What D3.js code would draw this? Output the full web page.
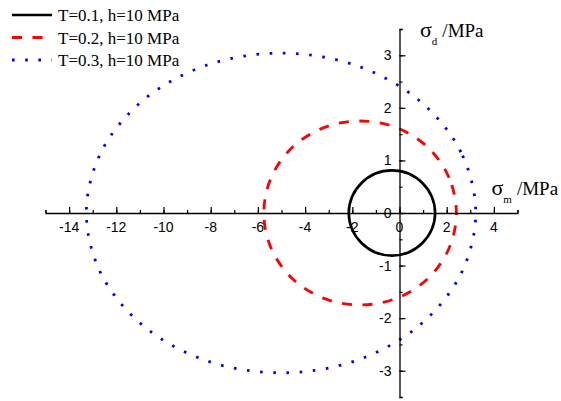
<!DOCTYPE html>
<html>
<head>
<meta charset="utf-8">
<script src="https://cdn.jsdelivr.net/npm/d3@7"></script>
<style>
  body { margin: 0; background: #fff; }
  svg { display: block; }
</style>
</head>
<body>
<div id="chart"></div>
<script>
// points: [sigma_m, sigma_d]
const curveT01 = [
  [1.51, 0], [1.37, 0.31], [0.97, 0.57], [0.38, 0.75], [-0.32, 0.81],
  [-1.02, 0.75], [-1.61, 0.57], [-2.01, 0.31], [-2.15, 0],
  [-2.01, -0.31], [-1.61, -0.57], [-1.02, -0.75], [-0.32, -0.81],
  [0.38, -0.75], [0.97, -0.57], [1.37, -0.31]
];
const curveT02 = [
  [2.41, 0], [2.10, 0.67], [1.22, 1.24], [-0.11, 1.62], [-1.67, 1.75],
  [-3.23, 1.62], [-4.56, 1.24], [-5.44, 0.67], [-5.75, 0],
  [-5.44, -0.67], [-4.56, -1.24], [-3.23, -1.62], [-1.67, -1.75],
  [-0.11, -1.62], [1.22, -1.24], [2.10, -0.67]
];
const curveT03 = [
  [3.23, 0], [2.60, 1.16], [0.81, 2.15], [-1.86, 2.81], [-5.02, 3.04],
  [-8.18, 2.81], [-10.85, 2.15], [-12.64, 1.16], [-13.27, 0],
  [-12.64, -1.16], [-10.85, -2.15], [-8.18, -2.81], [-5.02, -3.04],
  [-1.86, -2.81], [0.81, -2.15], [2.60, -1.16]
];
const seriesNames = ["T=0.1, h=10 MPa", "T=0.2, h=10 MPa", "T=0.3, h=10 MPa"];
const xTicks = [-14, -12, -10, -8, -6, -4, -2, 0, 2, 4];
const yTicks = [-3, -2, -1, 0, 1, 2, 3];

const width = 561, height = 401;
const sans = "'Liberation Sans', Arial, sans-serif";
const serif = "'Liberation Serif', 'Times New Roman', serif";

const x = d3.scaleLinear().domain([-15, 5]).range([45.5, 517.5]);
const y = d3.scaleLinear().domain([-3.5, 3.5]).range([397, 29]);

const svg = d3.select("#chart").append("svg")
    .attr("width", width)
    .attr("height", height);

const series = [
  { name: seriesNames[0], data: curveT01, color: "#000", dash: null, w: 2.6 },
  { name: seriesNames[1], data: curveT02, color: "#ff0000", dash: "10,10.5", w: 2.8 },
  { name: seriesNames[2], data: curveT03, color: "#0000ff", dash: "2.6,10.6", w: 2.8 }
];

const line = d3.line()
    .x(d => x(d[0]))
    .y(d => y(d[1]))
    .curve(d3.curveCatmullRomClosed.alpha(0.5));

svg.selectAll("path.curve")
  .data(series)
  .join("path")
    .attr("class", "curve")
    .attr("fill", "none")
    .attr("stroke", d => d.color)
    .attr("stroke-width", d => d.w)
    .attr("stroke-dasharray", d => d.dash)
    .attr("d", d => line(d.data));

// x axis through origin, ticks pointing up
const gx = svg.append("g")
    .attr("transform", `translate(0,${y(0)})`);
gx.call(d3.axisTop(x).tickValues(d3.range(-15, 6, 1)).tickSize(3).tickFormat(""))
gx.call(g => g.selectAll(".tick line").attr("stroke-width", 1.2));
gx.append("g")
  .call(d3.axisTop(x).tickValues(xTicks).tickSize(6).tickFormat(""))
  .call(g => g.select(".domain").remove())
  .call(g => g.selectAll(".tick line").attr("stroke-width", 1.2));
gx.select(".domain").attr("stroke-width", 1.3);
gx.selectAll("text.xl")
  .data(xTicks)
  .join("text")
    .attr("class", "xl")
    .attr("x", d => x(d))
    .attr("y", 19)
    .attr("fill", "#000")
    .attr("text-anchor", "middle")
    .attr("font-family", sans)
    .attr("font-size", 14)
    .text(d => d);

// y axis through origin, ticks pointing right
const gy = svg.append("g")
    .attr("transform", `translate(${x(0)},0)`);
gy.call(d3.axisRight(y).tickValues(d3.range(-3.5, 3.6, 0.5)).tickSize(3).tickFormat(""));
gy.call(g => g.selectAll(".tick line").attr("stroke-width", 1.2));
gy.append("g")
  .call(d3.axisRight(y).tickValues(yTicks).tickSize(6).tickFormat(""))
  .call(g => g.select(".domain").remove())
  .call(g => g.selectAll(".tick line").attr("stroke-width", 1.2));
gy.select(".domain").attr("stroke-width", 1.3);
gy.selectAll("text.yl")
  .data(yTicks)
  .join("text")
    .attr("class", "yl")
    .attr("x", -8)
    .attr("y", d => y(d) + 5)
    .attr("fill", "#000")
    .attr("text-anchor", "end")
    .attr("font-family", sans)
    .attr("font-size", 14)
    .text(d => d);

// axis titles
function title(tx, tyy, sub) {
  const t = svg.append("text")
      .attr("x", tx).attr("y", tyy)
      .attr("font-family", serif).attr("font-size", 19);
  t.append("tspan").attr("font-size", 22).text("σ");
  t.append("tspan").attr("font-size", 11).attr("dy", 8).text(sub);
  t.append("tspan").attr("dy", -8).attr("dx", 5).text("/MPa");
}
title(420, 37, "d");
title(491.5, 195, "m");

// legend
const rows = svg.append("g").selectAll("g")
  .data(series)
  .join("g")
    .attr("transform", (d, i) => `translate(0,${15 + i * 22.5})`);
rows.append("line")
    .attr("x1", 12).attr("x2", 52)
    .attr("stroke", d => d.color)
    .attr("stroke-width", d => d.w)
    .attr("stroke-dasharray", d => d.dash);
rows.append("text")
    .attr("x", 58).attr("y", 6)
    .attr("font-family", serif)
    .attr("font-size", 17)
    .text(d => d.name);
</script>
</body>
</html>
